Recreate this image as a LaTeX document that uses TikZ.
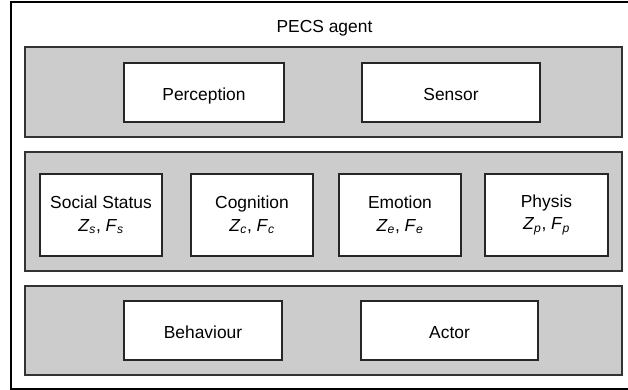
\documentclass[tikz,border=0pt]{standalone}
\usepackage{fontspec}
\setmainfont{Liberation Sans}
\begin{document}
\begin{tikzpicture}[x=1pt,y=-1pt,
  band/.style={draw=black!80,fill=black!20,line width=1.3pt},
  modbox/.style={draw=black!85,fill=white,line width=1.2pt,align=center,
    font=\fontsize{17.4}{22.5}\selectfont},
  oneline/.style={modbox,text height=16pt,text depth=0pt},
  title/.style={font=\fontsize{17.4}{22}\selectfont}]
\useasboundingbox (0,0) rectangle (628,390);
% outer agent frame (right side runs off the page)
\begin{scope}
\clip (0,0) rectangle (628,390);
\draw[line width=2pt,black] (11,2) rectangle (660,388.5);
\end{scope}
\node[title,anchor=base] (agent) at (324.5,33) {PECS agent};
% three layers
\draw[band] (25,47) rectangle (622,137);
\draw[band] (25,152) rectangle (622,271);
\draw[band] (25,286) rectangle (622,375);
% perception layer
\node[oneline,minimum width=160pt,minimum height=59pt] (perc) at (204,92.5) {Perception};
\node[oneline,minimum width=178pt,minimum height=59pt] (sens) at (451,92.5) {Sensor};
% state layer
\newcommand{\zf}[1]{\textit{Z}\textsubscript{\textit{#1}}, \textit{F}\textsubscript{\textit{#1}}}
\node[modbox,minimum width=122pt,minimum height=82pt] (soc) at (101,215) {Social Status\\\zf{s}};
\node[modbox,minimum width=122pt,minimum height=82pt] (cog) at (252,215) {Cognition\\\zf{c}};
\node[modbox,minimum width=122pt,minimum height=82pt] (emo) at (400,215) {Emotion\\\zf{e}};
\node[modbox,minimum width=123pt,minimum height=82pt] (phy) at (546.5,215) {Physis\\\zf{p}};
% action layer
\node[oneline,minimum width=158pt,minimum height=59pt] (beh) at (203,330.5) {Behaviour};
\node[oneline,minimum width=177pt,minimum height=59pt] (act) at (449.5,330.5) {Actor};
\end{tikzpicture}
\end{document}
